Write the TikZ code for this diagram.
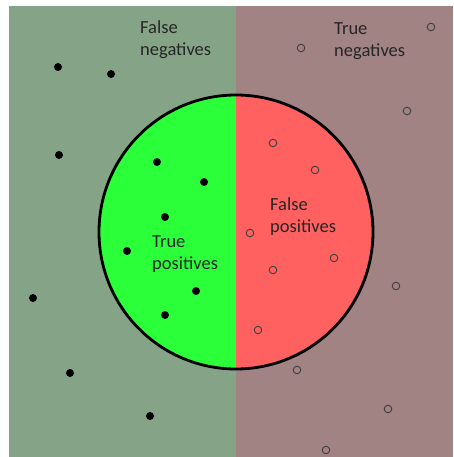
\documentclass[tikz,border=0pt]{standalone}
\usepackage{fontspec}
\setmainfont{Carlito}
\definecolor{fnbg}{RGB}{133,164,135}
\definecolor{tnbg}{RGB}{162,131,132}
\definecolor{tpfill}{RGB}{42,255,58}
\definecolor{fpfill}{RGB}{255,96,96}
\definecolor{ring}{RGB}{64,64,64}
\tikzset{
  lbl/.style={align=left, inner sep=0pt, anchor=north west, font=\fontsize{18.5}{22}\selectfont, text=black!85},
  posdot/.style={fill=black},
  negdot/.style={draw=ring, line width=0.9pt}
}
\begin{document}
\begin{tikzpicture}[x=1pt,y=-1pt]
\useasboundingbox (0,0) rectangle (453,457);
\fill[white] (0,0) rectangle (453,457);
\fill[fnbg] (9,6) rectangle (236,457);
\fill[tnbg] (236,6) rectangle (453,457);
\begin{scope}
  \clip (236,232) circle (137pt);
  \fill[tpfill] (90,90) rectangle (236,380);
  \fill[fpfill] (236,90) rectangle (380,380);
\end{scope}
\draw[line width=2.8pt] (236,232) circle (137pt);
% positives (filled)
\foreach \p in {(58,67),(111,74),(59,155),(157,162),(204,182),(165,217),(127,251),(196,291),(165,315),(33,298),(70,373),(150,416)}
  \fill[posdot] \p circle (4pt);
% negatives (hollow)
\foreach \p in {(273,143),(315,170),(250,233),(334,258),(273,270),(258,330),(297,370),(388,409),(326,450),(301,48),(431,27),(407,111),(396,286)}
  \draw[negdot] \p circle (3.8pt);
\node[lbl] (fn) at (140,20) {False\\negatives};
\node[lbl] (tn) at (334,22) {True\\negatives};
\node[lbl] (tp) at (152,235) {True\\positives};
\node[lbl] (fp) at (270,197) {False\\positives};
\end{tikzpicture}
\end{document}
